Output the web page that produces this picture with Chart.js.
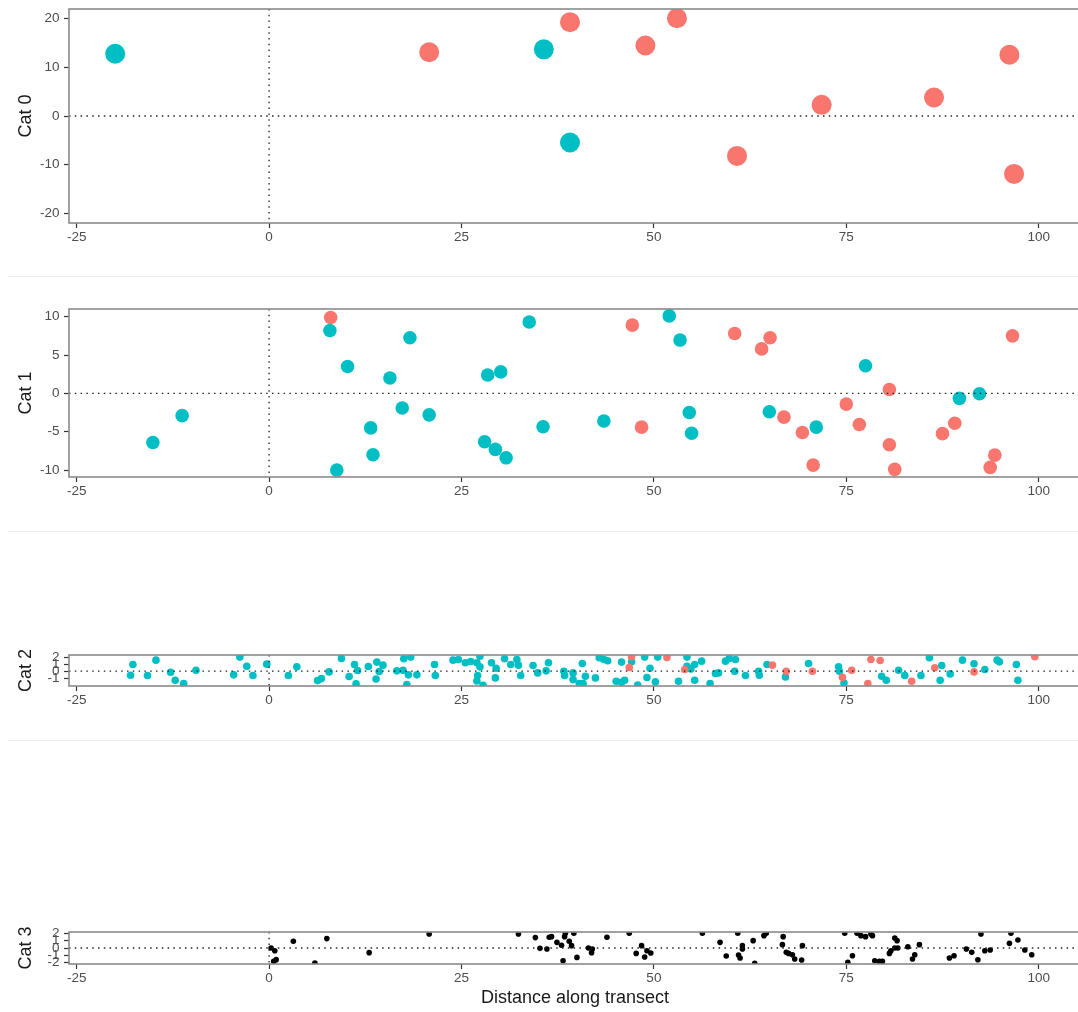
<!DOCTYPE html>
<html>
<head>
<meta charset="utf-8">
<script src="https://cdn.jsdelivr.net/npm/chart.js@4.4.1/dist/chart.umd.min.js"></script>
<style>
  html, body { margin: 0; padding: 0; background: #fff; }
  body { width: 1078px; height: 1012px; position: relative; overflow: hidden; }
  .panel { position: absolute; left: 0; }
  .sep { position: absolute; left: 8px; right: 0; height: 1px; background: #ebebeb; }
</style>
</head>
<body>
<div class="sep" style="top:276px"></div>
<div class="sep" style="top:531px"></div>
<div class="sep" style="top:740px"></div>

<canvas id="cat0" class="panel" width="1081" height="253" style="top:0px"></canvas>
<canvas id="cat1" class="panel" width="1081" height="207" style="top:300px"></canvas>
<canvas id="cat2" class="panel" width="1081" height="70" style="top:646px"></canvas>
<canvas id="cat3" class="panel" width="1081" height="91" style="top:923px"></canvas>

<script>
// ---- data: [distance, value] pairs ----
const xTicks = [-25, 0, 25, 50, 75, 100];
const cat0Ticks = [-20, -10, 0, 10, 20];
const cat1Ticks = [-10, -5, 0, 5, 10];
const cat2Ticks = [-1, 0, 1, 2];
const cat3Ticks = [-2, -1, 0, 1, 2];

const cat0Red = [[20.8, 13.1], [39.1, 19.3], [48.9, 14.5], [53.0, 20.1], [60.8, -8.2], [71.8, 2.3],
  [86.4, 3.8], [96.2, 12.6], [96.8, -11.9]];
const cat0Teal = [[-20.0, 12.8], [35.7, 13.7], [39.1, -5.45]];

const cat1Red = [[8.0, 9.9], [47.2, 8.9], [60.5, 7.8], [65.1, 7.25], [64.0, 5.8], [80.6, 0.5], [96.6, 7.5],
  [48.4, -4.4], [66.9, -3.1], [69.3, -5.1], [70.7, -9.35], [75.0, -1.4], [76.7, -4.05], [80.6, -6.7],
  [81.3, -9.9], [87.5, -5.25], [89.1, -3.9], [94.3, -8.05], [93.7, -9.65]];
const cat1Teal = [[7.9, 8.2], [10.2, 3.5], [18.3, 7.25], [15.7, 2.0], [17.3, -1.9], [20.8, -2.8], [13.2, -4.5],
  [13.5, -8.0], [8.8, -10.0], [-15.1, -6.4], [-11.3, -2.9], [28.4, 2.4], [30.1, 2.8], [28.0, -6.3],
  [29.4, -7.3], [30.8, -8.4], [33.8, 9.3], [35.6, -4.35], [43.5, -3.6], [52.0, 10.1], [53.4, 6.95],
  [54.6, -2.5], [54.9, -5.2], [65.0, -2.4], [71.1, -4.4], [77.5, 3.6], [89.7, -0.65], [92.3, -0.05]];

const cat2Red = [[47.1, 2.05], [46.8, 0.52], [51.7, 1.95], [54.0, 0.24], [65.4, 0.86], [67.2, 0], [70.6, 0],
  [74.5, -0.86], [75.7, 0.14], [77.8, -1.76], [78.2, 1.67], [79.4, 1.52], [83.5, -1.43], [86.5, 0.48],
  [91.6, -0.1], [99.5, 2.05]];
const cat2Teal = [[-17.7, 0.95], [-18.0, -0.57], [-14.7, 1.57], [-15.8, -0.62], [-12.8, -0.14], [-12.2, -1.29],
  [-11.1, -1.76], [-9.5, 0.14], [-3.8, 2.0], [-4.6, -0.52], [-2.9, 0.71], [-2.1, -0.62], [-0.3, 1.0],
  [2.5, -0.62], [3.6, 0.62], [6.3, -1.33], [6.8, -1.05], [7.8, -0.1], [9.4, 1.81], [10.4, -0.76],
  [11.1, 0.95], [11.5, 0.1], [11.3, -1.8], [12.9, 0.67], [14.0, 1.29], [14.8, 0.86], [14.3, -0.05],
  [13.9, -1.1], [16.6, 0.05], [17.4, 0.14], [17.5, 1.76], [18.4, 2.0], [18.1, -0.52], [19.2, -0.52],
  [17.9, -1.9], [21.5, 0.95], [21.6, -0.62], [23.9, 1.57], [24.6, 1.67], [25.5, 1.19], [26.2, 1.38],
  [27.0, 1.19], [27.4, 2.14], [27.4, 0.62], [27.1, -0.62], [27.0, -1.38], [27.8, -2.0], [28.9, 1.19],
  [29.5, 0.43], [29.4, -0.95], [30.6, 1.76], [31.4, 0.95], [32.2, 1.67], [32.4, 0.86], [32.7, -0.62],
  [34.3, 0.81], [34.9, -0.24], [36.0, 0.05], [36.3, 1.19], [38.3, 0], [38.4, -0.62], [39.5, -0.24],
  [39.5, -1.19], [40.3, -1.76], [40.8, -1.76], [40.7, 1.1], [41.1, -0.71], [42.4, -0.95], [42.9, 1.9],
  [43.5, 1.67], [44.0, 1.48], [45.1, -1.43], [45.8, 1.29], [46.2, -1.29], [45.8, -1.57], [47.1, 1.33],
  [47.9, -1.95], [48.8, 2.0], [49.1, -0.9], [49.5, 0.43], [50.2, -1.52], [50.5, 2.0], [53.2, -1.43],
  [54.3, 2.0], [54.3, 0.71], [54.8, 0.33], [55.3, -1.29], [55.3, 0.95], [56.2, 1.43], [57.3, -1.76],
  [58.0, -0.33], [58.4, -0.24], [59.3, 1.43], [59.8, 1.81], [60.6, 1.67], [60.5, 0], [61.9, -0.62],
  [63.7, -0.57], [63.6, 0], [64.7, 0.95], [67.1, -0.81], [70.1, 1.1], [74.0, 0.62], [74.1, 0],
  [74.7, -1.67], [79.6, -0.71], [80.2, -1.29], [81.8, 0.14], [82.6, -0.62], [84.7, -0.62], [85.8, 1.9],
  [87.4, 0.81], [87.2, -1.29], [88.5, -0.38], [90.1, 1.57], [91.6, 1.05], [93.0, 0.24], [94.6, 1.57],
  [94.9, 1.33], [97.1, 0.95], [97.3, -1.29]];

const cat3Points = [[0.26, 0], [0.74, -0.37], [0.92, -1.6], [0.6, -1.84], [3.15, 0.92], [5.95, -2.07],
  [7.5, 1.29], [13.0, -0.64], [20.8, 1.93], [32.4, 1.93], [34.6, 1.43], [36.4, 1.47], [35.2, -0.05],
  [36.1, -0.14], [36.7, 1.56], [37.4, 0.78], [38.0, 0.37], [38.4, 1.56], [38.5, 2.02], [39.0, 0.92],
  [39.3, 0.32], [39.6, 2.02], [38.2, -1.75], [40.0, -1.29], [41.5, 0], [42.0, -0.14], [41.9, -0.64],
  [43.9, 1.47], [46.8, 2.02], [48.4, 0.32], [47.7, -0.74], [48.8, -1.24], [49.1, -0.37], [49.6, -0.69],
  [56.3, 2.02], [58.6, 0.78], [59.4, -1.1], [60.9, 2.02], [61.5, 0.32], [61.5, -0.14], [61.0, -0.97],
  [61.2, -1.38], [62.9, 1.01], [63.1, -2.11], [64.3, 1.7], [64.6, 2.02], [66.8, 1.56], [66.7, 0.46],
  [67.2, -0.6], [67.5, -0.74], [68.0, -0.92], [68.3, -1.52], [69.3, 0.32], [69.2, -1.66], [74.8, 2.02],
  [75.8, -1.06], [75.2, -1.98], [76.4, 2.02], [76.9, 1.7], [77.5, 1.56], [78.2, 1.93], [78.4, 1.7],
  [78.7, -1.75], [79.3, -1.84], [79.7, -1.84], [80.6, -0.74], [80.8, -0.37], [81.3, 0], [81.7, 0],
  [81.3, 1.38], [81.6, 1.01], [83.0, 0.18], [84.5, 0.46], [83.9, -0.92], [83.6, -1.52], [88.4, -1.38],
  [89.0, -1.06], [90.6, -0.14], [91.3, -0.6], [92.1, -1.61], [92.5, 1.93], [93.0, -0.37], [93.7, -0.28],
  [96.4, 2.02], [96.2, 0.64], [97.3, 1.1], [98.2, -0.28], [99.1, -0.92]];

const RED = '#F8766D';
const TEAL = '#00BFC4';
const FONT = '"Liberation Sans", Arial, sans-serif';

// frame + dotted zero lines, placed through the scales
const framePlugin = {
  id: 'frame',
  afterDatasetsDraw(chart) {
    const { ctx, chartArea: a, scales: { x, y } } = chart;
    const x0 = x.getPixelForValue(0);
    const y0 = y.getPixelForValue(0);
    ctx.save();
    ctx.strokeStyle = '#222';
    ctx.lineWidth = 1.3;
    ctx.setLineDash([1.5, 4.3]);
    ctx.beginPath();
    ctx.moveTo(x0, a.top); ctx.lineTo(x0, a.bottom);
    ctx.moveTo(a.left, y0); ctx.lineTo(a.right, y0);
    ctx.stroke();
    ctx.setLineDash([]);
    ctx.strokeStyle = '#8a8a8a';
    ctx.lineWidth = 1.6;
    ctx.strokeRect(a.left, a.top, a.right - a.left, a.bottom - a.top);
    ctx.restore();
  }
};

function makePanel(id, opts) {
  const tickFont = { family: FONT, size: 13.5 };
  return new Chart(document.getElementById(id), {
    type: 'scatter',
    data: {
      datasets: opts.series.map(s => ({
        data: s.pts.map(([x, y]) => ({ x, y })),
        backgroundColor: s.color,
        borderWidth: 0,
        pointRadius: opts.radius,
        pointHoverRadius: opts.radius,
        clip: 0
      }))
    },
    options: {
      responsive: false,
      animation: false,
      devicePixelRatio: 1,
      events: [],
      layout: { autoPadding: false, padding: { top: 9, left: 0, right: 0, bottom: 0 } },
      plugins: { legend: { display: false }, tooltip: { enabled: false } },
      scales: {
        x: {
          type: 'linear',
          min: -26,
          max: 105.5,
          afterBuildTicks: s => { s.ticks = xTicks.map(v => ({ value: v })); },
          afterFit: s => { s.height = opts.xHeight; s.paddingLeft = 0; s.paddingRight = 0; },
          ticks: { autoSkip: false, maxRotation: 0, padding: 1, color: '#4d4d4d', font: tickFont },
          grid: { drawOnChartArea: false, drawTicks: true, tickLength: 5, tickColor: '#333', tickWidth: 1.2 },
          border: { display: false },
          title: opts.xTitle
            ? { display: true, text: opts.xTitle, color: '#1a1a1a', font: { family: FONT, size: 18 }, padding: { top: 0, bottom: 5 } }
            : { display: false }
        },
        y: {
          type: 'linear',
          min: opts.yMin,
          max: opts.yMax,
          afterBuildTicks: s => { s.ticks = opts.yTicks.map(v => ({ value: v })); },
          afterFit: s => { s.width = 69; s.paddingTop = 0; s.paddingBottom = 0; },
          ticks: { autoSkip: false, padding: 4.5, color: '#4d4d4d', font: tickFont },
          grid: { drawOnChartArea: false, drawTicks: true, tickLength: 5, tickColor: '#333', tickWidth: 1.2 },
          border: { display: false },
          title: { display: true, text: opts.yTitle, color: '#1a1a1a', font: { family: FONT, size: 18 }, padding: { top: 15, bottom: 0 } }
        }
      }
    },
    plugins: [framePlugin]
  });
}

makePanel('cat0', {
  series: [{ pts: cat0Red, color: RED }, { pts: cat0Teal, color: TEAL }],
  radius: 10, yMin: -22, yMax: 22, yTicks: cat0Ticks, yTitle: 'Cat 0', xHeight: 30
});
makePanel('cat1', {
  series: [{ pts: cat1Red, color: RED }, { pts: cat1Teal, color: TEAL }],
  radius: 6.8, yMin: -10.9, yMax: 11, yTicks: cat1Ticks, yTitle: 'Cat 1', xHeight: 30
});
makePanel('cat2', {
  series: [{ pts: cat2Red, color: RED }, { pts: cat2Teal, color: TEAL }],
  radius: 3.8, yMin: -2.1, yMax: 2.3, yTicks: cat2Ticks, yTitle: 'Cat 2', xHeight: 30
});
makePanel('cat3', {
  series: [{ pts: cat3Points, color: '#000' }],
  radius: 2.8, yMin: -2.2, yMax: 2.2, yTicks: cat3Ticks, yTitle: 'Cat 3', xHeight: 50,
  xTitle: 'Distance along transect'
});
</script>
</body>
</html>
